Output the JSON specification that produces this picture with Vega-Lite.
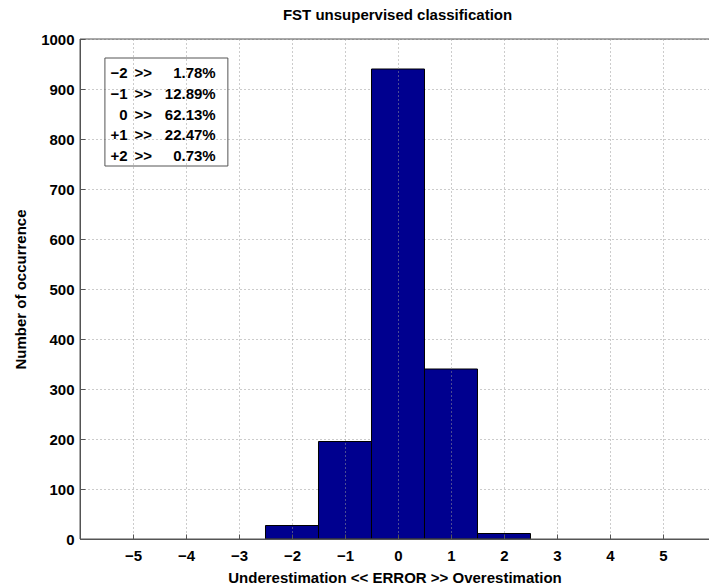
{
  "$schema": "https://vega.github.io/schema/vega-lite/v6.json",
  "width": 629,
  "height": 500,
  "autosize": {"type": "none"},
  "padding": {"left": 80, "top": 39, "right": 0, "bottom": 49},
  "background": "white",
  "title": {"text": "FST unsupervised classification", "font": "Liberation Sans", "fontSize": 15, "fontWeight": "bold", "anchor": "middle", "offset": 9, "color": "black", "dx": 3},
  "config": {"view": {"stroke": null}, "font": "Liberation Sans"},
  "datasets": {
    "hist": [
      {"error": -2, "lo": -2.5, "hi": -1.5, "count": 27},
      {"error": -1, "lo": -1.5, "hi": -0.5, "count": 195},
      {"error": 0, "lo": -0.5, "hi": 0.5, "count": 940},
      {"error": 1, "lo": 0.5, "hi": 1.5, "count": 340},
      {"error": 2, "lo": 1.5, "hi": 2.5, "count": 11}
    ],
    "box": [
      {"label": "\u22122", "pct": "1.78%", "y": 932},
      {"label": "\u22121", "pct": "12.89%", "y": 890},
      {"label": "0", "pct": "62.13%", "y": 849},
      {"label": "+1", "pct": "22.47%", "y": 808},
      {"label": "+2", "pct": "0.73%", "y": 766}
    ]
  },
  "layer": [
    {
      "data": {"name": "hist"},
      "mark": {"type": "rect", "fill": "#00008F", "stroke": "black", "strokeWidth": 1, "opacity": 1},
      "encoding": {
        "x": {
          "field": "lo", "type": "quantitative",
          "scale": {"domain": [-6, 5.868], "nice": false, "zero": false},
          "axis": {
            "orient": "bottom",
            "values": [-5, -4, -3, -2, -1, 0, 1, 2, 3, 4, 5],
            "title": "Underestimation << ERROR >> Overestimation",
            "titleFont": "Liberation Sans", "titleFontSize": 15, "titleFontWeight": "bold", "titleColor": "black", "titlePadding": 7,
            "labelFont": "Liberation Sans", "labelFontSize": 15, "labelFontWeight": "bold", "labelColor": "black", "labelPadding": 14,
            "domain": true, "domainColor": "#555", "domainWidth": 1,
            "ticks": true, "tickColor": "#555", "tickSize": -5,
            "grid": true, "gridColor": "#999", "gridDash": [1, 3], "gridWidth": 1, "zindex": 1
          }
        },
        "x2": {"field": "hi"},
        "y": {
          "field": "count", "type": "quantitative",
          "scale": {"domain": [0, 1000], "nice": false},
          "axis": {
            "orient": "left",
            "values": [0, 100, 200, 300, 400, 500, 600, 700, 800, 900, 1000],
            "format": "d",
            "title": "Number of occurrence",
            "titleFont": "Liberation Sans", "titleFontSize": 15, "titleFontWeight": "bold", "titleColor": "black", "titlePadding": 12,
            "labelFont": "Liberation Sans", "labelFontSize": 15, "labelFontWeight": "bold", "labelColor": "black", "labelPadding": 11,
            "domain": true, "domainColor": "#555", "domainWidth": 1,
            "ticks": true, "tickColor": "#555", "tickSize": -5,
            "grid": true, "gridColor": "#999", "gridDash": [1, 3], "gridWidth": 1, "zindex": 0
          }
        },
        "y2": {"datum": 0}
      }
    },
    {
      "data": {"values": [{}]},
      "mark": {"type": "rule", "color": "#555", "strokeWidth": 1},
      "encoding": {
        "x": {"datum": -6, "type": "quantitative"},
        "x2": {"datum": 5.868},
        "y": {"datum": 1000, "type": "quantitative"}
      }
    },
    {
      "data": {"values": [{}]},
      "mark": {"type": "rule", "color": "#555", "strokeWidth": 1},
      "encoding": {
        "x": {"datum": -6, "type": "quantitative"},
        "x2": {"datum": 5.868},
        "y": {"datum": 0, "type": "quantitative"}
      }
    },
    {
      "data": {"values": [{}]},
      "mark": {"type": "rule", "color": "#555", "strokeWidth": 1},
      "encoding": {
        "x": {"datum": -6, "type": "quantitative"},
        "y": {"datum": 0, "type": "quantitative"},
        "y2": {"datum": 1000}
      }
    },
    {
      "data": {"values": [{}]},
      "mark": {"type": "rect", "fill": null, "stroke": "#555", "strokeWidth": 1},
      "encoding": {
        "x": {"datum": -5.53, "type": "quantitative"},
        "x2": {"datum": -3.21},
        "y": {"datum": 962, "type": "quantitative"},
        "y2": {"datum": 746}
      }
    },
    {
      "data": {"name": "box"},
      "mark": {"type": "text", "align": "right", "baseline": "middle", "font": "Liberation Sans", "fontSize": 15, "fontWeight": "bold", "color": "black"},
      "encoding": {
        "x": {"datum": -5.1, "type": "quantitative"},
        "y": {"field": "y", "type": "quantitative"},
        "text": {"field": "label"}
      }
    },
    {
      "data": {"name": "box"},
      "mark": {"type": "text", "align": "left", "baseline": "middle", "font": "Liberation Sans", "fontSize": 15, "fontWeight": "bold", "color": "black", "text": ">>"},
      "encoding": {
        "x": {"datum": -4.97, "type": "quantitative"},
        "y": {"field": "y", "type": "quantitative"}
      }
    },
    {
      "data": {"name": "box"},
      "mark": {"type": "text", "align": "right", "baseline": "middle", "font": "Liberation Sans", "fontSize": 15, "fontWeight": "bold", "color": "black"},
      "encoding": {
        "x": {"datum": -3.44, "type": "quantitative"},
        "y": {"field": "y", "type": "quantitative"},
        "text": {"field": "pct"}
      }
    }
  ]
}
